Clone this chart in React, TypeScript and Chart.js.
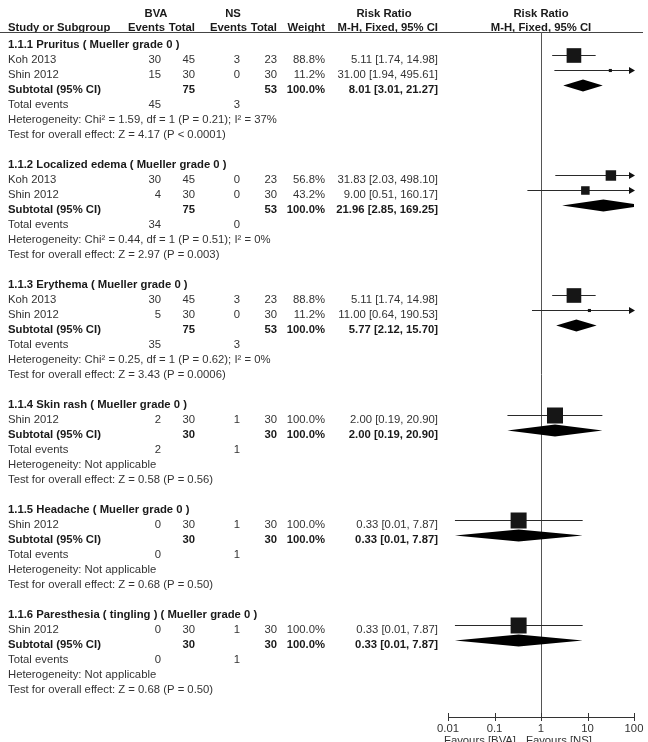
import React, { useEffect, useRef } from 'react';
import { Chart, registerables } from 'chart.js';

Chart.register(...registerables);

// ---------- data ----------
const groupTitles = [
  '1.1.1 Pruritus ( Mueller grade 0 )',
  '1.1.2 Localized edema ( Mueller grade 0 )',
  '1.1.3 Erythema ( Mueller grade 0 )',
  '1.1.4 Skin rash ( Mueller grade 0 )',
  '1.1.5 Headache ( Mueller grade 0 )',
  '1.1.6 Paresthesia ( tingling ) ( Mueller grade 0 )',
];
const studyGroup = [0, 0, 1, 1, 2, 2, 3, 4, 5];
const studyNames = ['Koh 2013', 'Shin 2012', 'Koh 2013', 'Shin 2012', 'Koh 2013', 'Shin 2012', 'Shin 2012', 'Shin 2012', 'Shin 2012'];
const bvaEvents = [30, 15, 30, 4, 30, 5, 2, 0, 0];
const bvaTotal = [45, 30, 45, 30, 45, 30, 30, 30, 30];
const nsEvents = [3, 0, 0, 0, 3, 0, 1, 1, 1];
const nsTotal = [23, 30, 23, 30, 23, 30, 30, 30, 30];
const studyWeight = [88.8, 11.2, 56.8, 43.2, 88.8, 11.2, 100, 100, 100];
const studyRR = [5.11, 31.0, 31.83, 9.0, 5.11, 11.0, 2.0, 0.33, 0.33];
const studyLow = [1.74, 1.94, 2.03, 0.51, 1.74, 0.64, 0.19, 0.0141, 0.0141];
const studyHigh = [14.98, 495.61, 498.1, 160.17, 14.98, 190.53, 20.9, 7.87, 7.87];

const subBvaTotal = [75, 75, 75, 30, 30, 30];
const subNsTotal = [53, 53, 53, 30, 30, 30];
const subRR = [8.01, 21.96, 5.77, 2.0, 0.33, 0.33];
const subLow = [3.01, 2.85, 2.12, 0.19, 0.0141, 0.0141];
const subHigh = [21.27, 169.25, 15.7, 20.9, 7.87, 7.87];
const totBvaEvents = [45, 34, 35, 2, 0, 0];
const totNsEvents = [3, 0, 3, 1, 1, 1];
const hetTexts = [
  'Heterogeneity: Chi² = 1.59, df = 1 (P = 0.21); I² = 37%',
  'Heterogeneity: Chi² = 0.44, df = 1 (P = 0.51); I² = 0%',
  'Heterogeneity: Chi² = 0.25, df = 1 (P = 0.62); I² = 0%',
  'Heterogeneity: Not applicable',
  'Heterogeneity: Not applicable',
  'Heterogeneity: Not applicable',
];
const testTexts = [
  'Test for overall effect: Z = 4.17 (P < 0.0001)',
  'Test for overall effect: Z = 2.97 (P = 0.003)',
  'Test for overall effect: Z = 3.43 (P = 0.0006)',
  'Test for overall effect: Z = 0.58 (P = 0.56)',
  'Test for overall effect: Z = 0.68 (P = 0.50)',
  'Test for overall effect: Z = 0.68 (P = 0.50)',
];
const axisTicks = [0.01, 0.1, 1, 10, 100];
const axisTickLabels = ['0.01', '0.1', '1', '10', '100'];
const favoursLeft = 'Favours [BVA]';
const favoursRight = 'Favours [NS]';

// ---------- layout helpers ----------
const FONT = '"Liberation Sans", Arial, sans-serif';
const FS = 11.3;
const REG = '#333';
const BOLD = '#1a1a1a';

type Row = { kind: string; g: number; s?: number };
function buildRows(): Row[] {
  const rows: Row[] = [];
  groupTitles.forEach((_, g) => {
    rows.push({ kind: 'title', g });
    studyGroup.forEach((sg, s) => {
      if (sg === g) rows.push({ kind: 'study', g, s });
    });
    rows.push({ kind: 'subtotal', g });
    rows.push({ kind: 'total', g });
    rows.push({ kind: 'het', g });
    rows.push({ kind: 'test', g });
    rows.push({ kind: 'blank', g });
  });
  return rows;
}

function txt(ctx: CanvasRenderingContext2D, t: string, x: number, y: number, align: CanvasTextAlign, bold = false) {
  ctx.save();
  ctx.font = `${bold ? 'bold ' : ''}${FS}px ${FONT}`;
  ctx.fillStyle = bold ? BOLD : REG;
  ctx.textBaseline = 'alphabetic';
  ctx.textAlign = align;
  ctx.fillText(t, x, y);
  ctx.restore();
}

const ciText = (rr: number, lo: number, hi: number) => `${rr.toFixed(2)} [${lo.toFixed(2)}, ${hi.toFixed(2)}]`;

const forestPlugin = {
  id: 'forest',
  afterDraw(chart: any) {
    const ctx: CanvasRenderingContext2D = chart.ctx;
    const xs = chart.scales.x;
    const ys = chart.scales.y;
    const area = chart.chartArea;
    const rows = buildRows();
    const xMin = axisTicks[0];
    const xMax = axisTicks[axisTicks.length - 1];
    const px = (v: number) => xs.getPixelForValue(Math.min(Math.max(v, xMin), xMax));
    const tY = (r: number) => ys.getPixelForValue(r) + 8;

    // column positions
    const cStudy = 8, cBvaE = 161, cBvaT = 195, cNsE = 240, cNsT = 277, cW = 325, cRR = 438;

    // headers
    const h1 = tY(-2) - 1.5;
    const h2 = tY(-1) - 2;
    txt(ctx, 'BVA', 156, h1, 'center', true);
    txt(ctx, 'NS', 233, h1, 'center', true);
    txt(ctx, 'Risk Ratio', 384, h1, 'center', true);
    txt(ctx, 'Risk Ratio', px(1), h1, 'center', true);
    txt(ctx, 'Study or Subgroup', cStudy, h2, 'left', true);
    txt(ctx, 'Events', 165, h2, 'right', true);
    txt(ctx, 'Total', cBvaT, h2, 'right', true);
    txt(ctx, 'Events', 247, h2, 'right', true);
    txt(ctx, 'Total', cNsT, h2, 'right', true);
    txt(ctx, 'Weight', cW, h2, 'right', true);
    txt(ctx, 'M-H, Fixed, 95% CI', cRR, h2, 'right', true);
    txt(ctx, 'M-H, Fixed, 95% CI', px(1), h2, 'center', true);

    ctx.save();
    ctx.strokeStyle = '#444';
    ctx.lineWidth = 1.2;
    ctx.beginPath();
    ctx.moveTo(0, area.top + 0.5);
    ctx.lineTo(643, area.top + 0.5);
    ctx.stroke();
    // line of no effect
    ctx.lineWidth = 1;
    ctx.strokeStyle = '#555';
    ctx.beginPath();
    ctx.moveTo(Math.round(px(1)) + 0.5, area.top);
    ctx.lineTo(Math.round(px(1)) + 0.5, area.bottom);
    ctx.stroke();
    // axis
    ctx.strokeStyle = '#333';
    ctx.beginPath();
    ctx.moveTo(px(xMin), area.bottom + 0.5);
    ctx.lineTo(px(xMax), area.bottom + 0.5);
    axisTicks.forEach((t) => {
      const x = Math.round(px(t)) + 0.5;
      ctx.moveTo(x, area.bottom - 4);
      ctx.lineTo(x, area.bottom + 4);
    });
    ctx.stroke();
    ctx.restore();
    axisTicks.forEach((t, i) => txt(ctx, axisTickLabels[i], px(t), area.bottom + 14.5, 'center'));
    txt(ctx, favoursLeft, px(1) - 25, area.bottom + 26.5, 'right');
    txt(ctx, favoursRight, px(1) - 15, area.bottom + 26.5, 'left');

    const drawCI = (y: number, lo: number, hi: number) => {
      ctx.save();
      ctx.strokeStyle = '#2a2a2a';
      ctx.fillStyle = '#111';
      ctx.lineWidth = 1;
      const yy = Math.round(y) + 0.5;
      const x0 = px(lo), x1 = px(hi);
      ctx.beginPath();
      ctx.moveTo(x0, yy);
      ctx.lineTo(x1, yy);
      ctx.stroke();
      if (hi > xMax) {
        ctx.beginPath();
        ctx.moveTo(x1 + 1, yy);
        ctx.lineTo(x1 - 5, yy - 3.5);
        ctx.lineTo(x1 - 5, yy + 3.5);
        ctx.closePath();
        ctx.fill();
      }
      if (lo < xMin) {
        ctx.beginPath();
        ctx.moveTo(x0 - 1, yy);
        ctx.lineTo(x0 + 5, yy - 3.5);
        ctx.lineTo(x0 + 5, yy + 3.5);
        ctx.closePath();
        ctx.fill();
      }
      ctx.restore();
    };

    rows.forEach((row, r) => {
      const ty = tY(r);
      const my = ys.getPixelForValue(r);
      const g = row.g;
      if (row.kind === 'title') {
        txt(ctx, groupTitles[g], cStudy, ty, 'left', true);
      } else if (row.kind === 'study') {
        const s = row.s as number;
        txt(ctx, studyNames[s], cStudy, ty, 'left');
        txt(ctx, String(bvaEvents[s]), cBvaE, ty, 'right');
        txt(ctx, String(bvaTotal[s]), cBvaT, ty, 'right');
        txt(ctx, String(nsEvents[s]), cNsE, ty, 'right');
        txt(ctx, String(nsTotal[s]), cNsT, ty, 'right');
        txt(ctx, studyWeight[s].toFixed(1) + '%', cW, ty, 'right');
        txt(ctx, ciText(studyRR[s], studyLow[s], studyHigh[s]), cRR, ty, 'right');
        drawCI(my, studyLow[s], studyHigh[s]);
        const side = Math.max(2.5, 16 * Math.pow(studyWeight[s] / 100, 0.75));
        ctx.save();
        ctx.fillStyle = '#161616';
        const cx = xs.getPixelForValue(studyRR[s]);
        ctx.fillRect(cx - side / 2, my + 0.5 - side / 2, side, side);
        ctx.restore();
      } else if (row.kind === 'subtotal') {
        txt(ctx, 'Subtotal (95% CI)', cStudy, ty, 'left', true);
        txt(ctx, String(subBvaTotal[g]), cBvaT, ty, 'right', true);
        txt(ctx, String(subNsTotal[g]), cNsT, ty, 'right', true);
        txt(ctx, '100.0%', cW, ty, 'right', true);
        txt(ctx, ciText(subRR[g], subLow[g], subHigh[g]), cRR, ty, 'right', true);
        ctx.save();
        ctx.beginPath();
        ctx.rect(area.left, area.top, area.right - area.left, area.bottom - area.top);
        ctx.clip();
        ctx.fillStyle = '#000';
        ctx.beginPath();
        ctx.moveTo(xs.getPixelForValue(subLow[g]), my + 0.5);
        ctx.lineTo(xs.getPixelForValue(subRR[g]), my + 0.5 - 6);
        ctx.lineTo(xs.getPixelForValue(subHigh[g]), my + 0.5);
        ctx.lineTo(xs.getPixelForValue(subRR[g]), my + 0.5 + 6);
        ctx.closePath();
        ctx.fill();
        ctx.restore();
      } else if (row.kind === 'total') {
        txt(ctx, 'Total events', cStudy, ty, 'left');
        txt(ctx, String(totBvaEvents[g]), cBvaE, ty, 'right');
        txt(ctx, String(totNsEvents[g]), cNsE, ty, 'right');
      } else if (row.kind === 'het') {
        txt(ctx, hetTexts[g], cStudy, ty, 'left');
      } else if (row.kind === 'test') {
        txt(ctx, testTexts[g], cStudy, ty, 'left');
      }
    });
  },
};

export default function App() {
  const ref = useRef<HTMLCanvasElement | null>(null);
  useEffect(() => {
    document.body.style.margin = '0';
    const canvas = ref.current;
    if (!canvas) return;
    const rows = buildRows();
    const points = rows
      .map((row, r) => (row.kind === 'study' ? { x: studyRR[row.s as number], y: r } : null))
      .filter((p) => p !== null);
    const chart = new Chart(canvas, {
      type: 'scatter',
      data: {
        datasets: [
          {
            data: points as any,
            pointRadius: 0,
            pointHoverRadius: 0,
            backgroundColor: '#000',
          },
        ],
      },
      options: {
        responsive: false,
        maintainAspectRatio: false,
        animation: false,
        devicePixelRatio: 1,
        layout: { padding: { left: 448, right: 14, top: 32, bottom: 25 } },
        plugins: { legend: { display: false }, tooltip: { enabled: false } },
        events: [],
        scales: {
          x: { type: 'logarithmic', min: axisTicks[0], max: axisTicks[axisTicks.length - 1], display: false },
          y: { type: 'linear', min: -8 / 15, max: (717 - 40) / 15, reverse: true, display: false },
        },
      },
      plugins: [forestPlugin],
    });
    return () => chart.destroy();
  }, []);
  return (
    <div style={{ width: 648, height: 742, background: '#fff' }}>
      <canvas ref={ref} width={648} height={742} style={{ display: 'block' }} />
    </div>
  );
}
